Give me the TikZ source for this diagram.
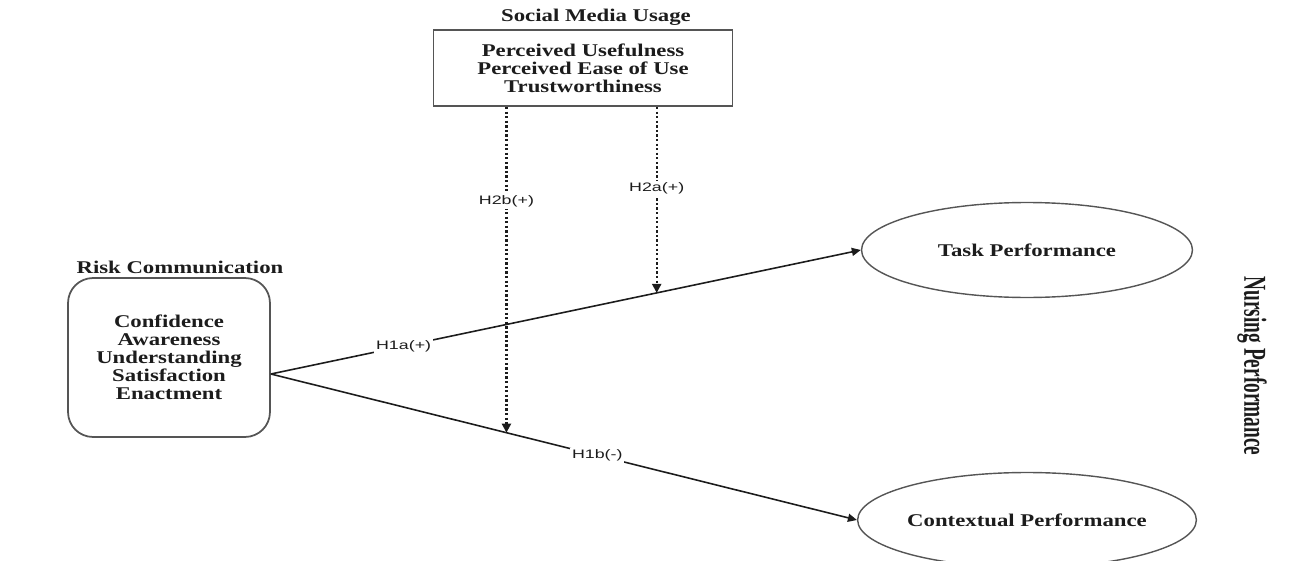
\documentclass[tikz,border=0pt]{standalone}
\usepackage{graphicx}
\usepackage{fontspec}
\setmainfont{Liberation Serif}
\newfontfamily\wideserif[FakeStretch=1.27]{Liberation Serif}
\newfontfamily\widesans[FakeStretch=1.45]{Liberation Sans}
\usetikzlibrary{shapes.geometric,arrows.meta}
\definecolor{ink}{HTML}{1C1C1C}
\definecolor{edge}{HTML}{555555}
\begin{document}
\begin{tikzpicture}[x=0.02cm,y=-0.02cm,
  txt/.style={font=\wideserif\bfseries\fontsize{10.2}{10.3}\selectfont, text=ink, align=center, inner sep=0pt},
  lab/.style={font=\widesans\fontsize{7}{7.5}\selectfont, text=ink, fill=white, inner sep=1pt},
  smubox/.style={txt, draw=edge, line width=1.1pt, minimum width=5.98cm, minimum height=1.52cm},
  riskbox/.style={txt, draw=edge, line width=1pt, rounded corners=0.5cm, minimum width=4.04cm, minimum height=3.18cm},
  perf/.style={txt, ellipse, draw=edge, line width=0.8pt, minimum width=6.62cm, minimum height=1.9cm},
  hyp/.style={draw=ink, line width=0.9pt, -{Triangle[length=1.8mm,width=1.6mm]}},
  modarrow/.style={draw=ink, line width=1.2pt, dash pattern=on 1.3pt off 1.3pt, -{Triangle[length=1.8mm,width=1.8mm]}}
]
\useasboundingbox (0,0) rectangle (1289,561);
\clip (0,0) rectangle (1289,561);

\node[txt] (smutitle) at (596,17) {Social Media Usage};
\node[smubox] (smu) at (583,68) {Perceived Usefulness\\Perceived Ease of Use\\Trustworthiness};

\node[txt] (risktitle) at (180,267) {Risk Communication};
\node[riskbox] (risk) at (169,357.5) {Confidence\\Awareness\\Understanding\\Satisfaction\\Enactment};

\node[perf] (task) at (1027,250) {Task Performance};
\node[perf] (ctx) at (1027,520) {Contextual Performance};

\node[rotate=-90, text=ink, inner sep=0pt, font=\bfseries\fontsize{11}{12}\selectfont] (np) at (1252,366) {\scalebox{1}[1.65]{Nursing Performance}};

\coordinate (rs) at ([yshift=-0.33cm]risk.east);

\draw[hyp] (rs) -- node[lab, pos=0.225] {H1a(+)} coordinate[pos=0.654] (t2a) (task.west);
\draw[hyp] (rs) -- node[lab, pos=0.557] {H1b(-)} coordinate[pos=0.402] (t2b) (ctx.west);

\draw[modarrow] (smu.south -| t2a) -- node[lab, pos=0.44] {H2a(+)} (t2a);
\draw[modarrow] (smu.south -| t2b) -- node[lab, pos=0.29] {H2b(+)} (t2b);
\end{tikzpicture}
\end{document}
